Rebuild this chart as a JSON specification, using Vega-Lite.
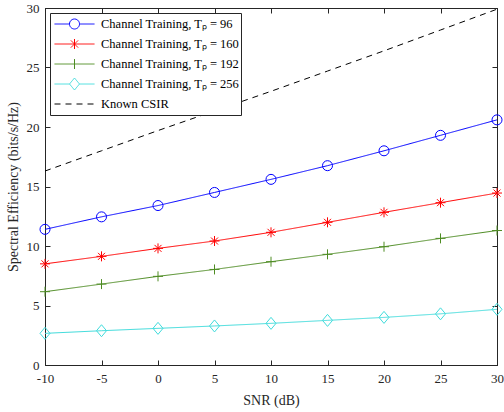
{
  "$schema": "https://vega.github.io/schema/vega-lite/v6.json",
  "width": 452,
  "height": 357,
  "autosize": {"type": "none"},
  "padding": {"left": 45, "top": 8, "right": 7, "bottom": 47},
  "background": "white",
  "config": {
    "view": {"stroke": "#262626", "strokeWidth": 1},
    "font": "Liberation Serif",
    "axis": {
      "labelFont": "Liberation Serif",
      "titleFont": "Liberation Serif",
      "labelFontSize": 13,
      "titleFontSize": 14,
      "titleFontWeight": "normal",
      "labelColor": "#262626",
      "titleColor": "#262626",
      "domainColor": "#262626",
      "tickColor": "#262626",
      "grid": false,
      "tickSize": -5,
      "labelPadding": 12,
      "labelFlush": false
    }
  },
  "data": {
    "values": [
      {"snr": -10, "se": 11.4, "series": "Channel Training, Tₚ = 96"},
      {"snr": -5, "se": 12.45, "series": "Channel Training, Tₚ = 96"},
      {"snr": 0, "se": 13.4, "series": "Channel Training, Tₚ = 96"},
      {"snr": 5, "se": 14.5, "series": "Channel Training, Tₚ = 96"},
      {"snr": 10, "se": 15.6, "series": "Channel Training, Tₚ = 96"},
      {"snr": 15, "se": 16.75, "series": "Channel Training, Tₚ = 96"},
      {"snr": 20, "se": 18.0, "series": "Channel Training, Tₚ = 96"},
      {"snr": 25, "se": 19.3, "series": "Channel Training, Tₚ = 96"},
      {"snr": 30, "se": 20.6, "series": "Channel Training, Tₚ = 96"},
      {"snr": -10, "se": 8.5, "series": "Channel Training, Tₚ = 160"},
      {"snr": -5, "se": 9.13, "series": "Channel Training, Tₚ = 160"},
      {"snr": 0, "se": 9.8, "series": "Channel Training, Tₚ = 160"},
      {"snr": 5, "se": 10.42, "series": "Channel Training, Tₚ = 160"},
      {"snr": 10, "se": 11.15, "series": "Channel Training, Tₚ = 160"},
      {"snr": 15, "se": 11.99, "series": "Channel Training, Tₚ = 160"},
      {"snr": 20, "se": 12.83, "series": "Channel Training, Tₚ = 160"},
      {"snr": 25, "se": 13.64, "series": "Channel Training, Tₚ = 160"},
      {"snr": 30, "se": 14.45, "series": "Channel Training, Tₚ = 160"},
      {"snr": -10, "se": 6.16, "series": "Channel Training, Tₚ = 192"},
      {"snr": -5, "se": 6.8, "series": "Channel Training, Tₚ = 192"},
      {"snr": 0, "se": 7.45, "series": "Channel Training, Tₚ = 192"},
      {"snr": 5, "se": 8.03, "series": "Channel Training, Tₚ = 192"},
      {"snr": 10, "se": 8.68, "series": "Channel Training, Tₚ = 192"},
      {"snr": 15, "se": 9.3, "series": "Channel Training, Tₚ = 192"},
      {"snr": 20, "se": 9.94, "series": "Channel Training, Tₚ = 192"},
      {"snr": 25, "se": 10.64, "series": "Channel Training, Tₚ = 192"},
      {"snr": 30, "se": 11.3, "series": "Channel Training, Tₚ = 192"},
      {"snr": -10, "se": 2.66, "series": "Channel Training, Tₚ = 256"},
      {"snr": -5, "se": 2.88, "series": "Channel Training, Tₚ = 256"},
      {"snr": 0, "se": 3.08, "series": "Channel Training, Tₚ = 256"},
      {"snr": 5, "se": 3.28, "series": "Channel Training, Tₚ = 256"},
      {"snr": 10, "se": 3.5, "series": "Channel Training, Tₚ = 256"},
      {"snr": 15, "se": 3.75, "series": "Channel Training, Tₚ = 256"},
      {"snr": 20, "se": 4.0, "series": "Channel Training, Tₚ = 256"},
      {"snr": 25, "se": 4.3, "series": "Channel Training, Tₚ = 256"},
      {"snr": 30, "se": 4.68, "series": "Channel Training, Tₚ = 256"},
      {"snr": -10, "se": 16.3, "series": "Known CSIR"},
      {"snr": -5, "se": 18.0, "series": "Known CSIR"},
      {"snr": 0, "se": 19.7, "series": "Known CSIR"},
      {"snr": 5, "se": 21.35, "series": "Known CSIR"},
      {"snr": 10, "se": 23.0, "series": "Known CSIR"},
      {"snr": 15, "se": 24.7, "series": "Known CSIR"},
      {"snr": 20, "se": 26.4, "series": "Known CSIR"},
      {"snr": 25, "se": 28.15, "series": "Known CSIR"},
      {"snr": 30, "se": 29.9, "series": "Known CSIR"}
    ]
  },
  "layer": [
    {
      "mark": {"type": "line", "strokeWidth": 1, "clip": true},
      "encoding": {
        "x": {
          "field": "snr", "type": "quantitative",
          "scale": {"domain": [-10, 30], "nice": false, "zero": false},
          "axis": {"orient": "bottom", "values": [-10, -5, 0, 5, 10, 15, 20, 25, 30], "labelExpr": "'' + datum.value", "title": "SNR (dB)", "titlePadding": 8}
        },
        "y": {
          "field": "se", "type": "quantitative",
          "scale": {"domain": [0, 30], "nice": false, "zero": false},
          "axis": {"orient": "left", "values": [0, 5, 10, 15, 20, 25, 30], "labelPadding": 11, "title": "Spectral Efficiency (bits/s/Hz)", "titlePadding": 6}
        },
        "color": {
          "field": "series", "type": "nominal",
          "scale": {
            "domain": ["Channel Training, Tₚ = 96", "Channel Training, Tₚ = 160", "Channel Training, Tₚ = 192", "Channel Training, Tₚ = 256", "Known CSIR"],
            "range": ["#0000ff", "#ff0000", "#4e8c23", "#40dcdc", "#000000"]
          },
          "legend": {
            "title": null,
            "orient": "top-left",
            "offset": 5,
            "fillColor": "white",
            "strokeColor": "#262626",
            "padding": 1,
            "labelFont": "Liberation Serif",
            "labelFontSize": 12.5,
            "labelColor": "black",
            "labelLimit": 400,
            "symbolSize": 1600,
            "symbolStrokeWidth": 1,
            "symbolOffset": 3,
            "labelOffset": 6,
            "clipHeight": 20,
            "rowPadding": 0,
            "encode": {
              "symbols": {
                "update": {
                  "shape": {"signal": "datum.index == 4 ? 'M-1,0H-0.65M-0.45,0H-0.1M0.1,0H0.45M0.65,0H1' : datum.index == 0 ? 'M-1,0H-0.25M0.25,0H1M-0.25,0A0.25,0.25 0 1 1 0.25,0A0.25,0.25 0 1 1 -0.25,0' : datum.index == 1 ? 'M-1,0H1M0,-0.25V0.25M-0.18,-0.18L0.18,0.18M-0.18,0.18L0.18,-0.18' : datum.index == 2 ? 'M-1,0H1M0,-0.25V0.25' : 'M-1,0H-0.25M0.25,0H1M0,-0.3L0.25,0L0,0.3L-0.25,0Z'"},
                  "fill": {"value": "transparent"},
                  "strokeDash": {"value": [1, 0]}
                }
              }
            }
          }
        },
        "strokeDash": {
          "field": "series", "type": "nominal",
          "scale": {
            "domain": ["Channel Training, Tₚ = 96", "Channel Training, Tₚ = 160", "Channel Training, Tₚ = 192", "Channel Training, Tₚ = 256", "Known CSIR"],
            "range": [[1, 0], [1, 0], [1, 0], [1, 0], [6, 5]]
          },
          "legend": null
        }
      }
    },
    {
      "transform": [{"filter": "datum.series != 'Known CSIR'"}],
      "mark": {"type": "point", "filled": false, "size": 100, "strokeWidth": 1, "opacity": 1},
      "encoding": {
        "x": {
          "field": "snr", "type": "quantitative",
          "axis": {"orient": "top", "values": [-10, -5, 0, 5, 10, 15, 20, 25, 30], "labels": false, "title": null}
        },
        "y": {
          "field": "se", "type": "quantitative",
          "axis": {"orient": "right", "values": [0, 5, 10, 15, 20, 25, 30], "labels": false, "title": null}
        },
        "color": {"field": "series", "type": "nominal", "legend": null},
        "shape": {
          "field": "series", "type": "nominal",
          "scale": {
            "domain": ["Channel Training, Tₚ = 96", "Channel Training, Tₚ = 160", "Channel Training, Tₚ = 192", "Channel Training, Tₚ = 256"],
            "range": ["circle", "M0,-1V1M-1,0H1M-0.7,-0.7L0.7,0.7M-0.7,0.7L0.7,-0.7", "M0,-1V1M-1,0H1", "M0,-1.2L1,0L0,1.2L-1,0Z"]
          },
          "legend": null
        }
      }
    }
  ],
  "resolve": {"axis": {"x": "independent", "y": "independent"}}
}
